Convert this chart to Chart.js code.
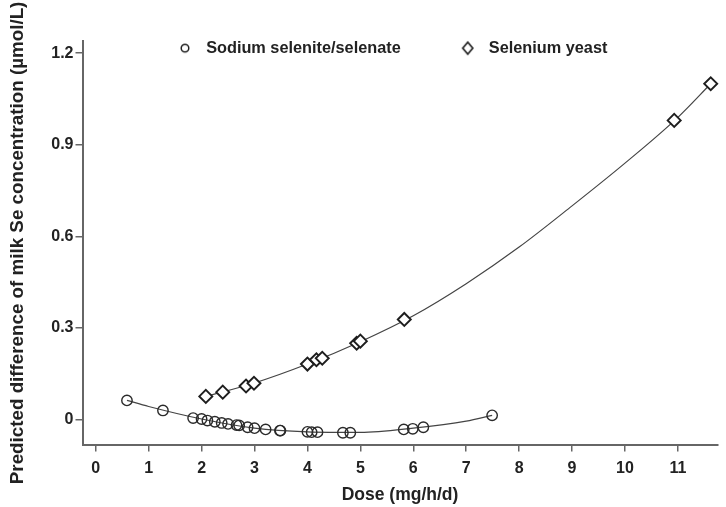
<!DOCTYPE html>
<html><head><meta charset="utf-8">
<script src="https://cdn.jsdelivr.net/npm/chart.js@4.4.0/dist/chart.umd.min.js"></script>
<style>html,body{margin:0;padding:0;background:#fff}#wrap{width:726px;height:507px}</style>
</head><body><div id="wrap"><canvas id="c" width="726" height="507"></canvas></div>
<script>
// ---- data ----
const seriesNames = ['Sodium selenite/selenate', 'Selenium yeast'];
const sodiumDose = [0.59, 1.27, 1.84, 2.00, 2.11, 2.25, 2.38, 2.50, 2.66, 2.71, 2.87, 3.00, 3.21, 3.48, 3.49, 4.00, 4.08, 4.19, 4.67, 4.81, 5.82, 5.99, 6.19, 7.49];
const sodiumDiff = [0.063, 0.030, 0.005, 0.002, -0.003, -0.007, -0.011, -0.014, -0.018, -0.019, -0.025, -0.028, -0.032, -0.036, -0.036, -0.040, -0.041, -0.041, -0.043, -0.043, -0.032, -0.030, -0.025, 0.014];
const yeastDose = [2.08, 2.40, 2.84, 2.99, 4.00, 4.17, 4.28, 4.93, 5.00, 5.83, 10.93, 11.62];
const yeastDiff = [0.076, 0.090, 0.110, 0.119, 0.182, 0.196, 0.201, 0.250, 0.257, 0.328, 0.980, 1.100];
// fitted curves
const sodiumFitDose = [0.59, 1, 2, 3, 4, 5, 6, 7, 7.49];
const sodiumFitDiff = [0.063, 0.043, 0.002, -0.028, -0.040, -0.042, -0.028, -0.005, 0.014];
const yeastFitDose = [2.08, 3, 4, 5, 6, 7, 8, 9, 10, 11, 11.62];
const yeastFitDiff = [0.076, 0.120, 0.182, 0.255, 0.340, 0.445, 0.565, 0.700, 0.840, 0.990, 1.100];
const xTickValues = [0, 1, 2, 3, 4, 5, 6, 7, 8, 9, 10, 11];
const yTickValues = [0, 0.3, 0.6, 0.9, 1.2];
const xTitle = 'Dose (mg/h/d)';
const yTitle = 'Predicted difference of milk Se concentration (\u00b5mol/L)';

const pts = (xs, ys) => xs.map((x, i) => ({x: x, y: ys[i]}));
const INK = '#222';
const AXIS = '#666';
const FAM = 'Liberation Sans, Arial, Helvetica, sans-serif';
const FONT = {family: FAM, size: 16, weight: 'bold'};

function makeIcon(kind) {
  const cv = document.createElement('canvas');
  cv.width = 80; cv.height = 16;
  const g = cv.getContext('2d');
  g.strokeStyle = INK; g.fillStyle = '#fff';
  const cx = 67, cy = 8;
  g.beginPath();
  if (kind === 'circle') {
    g.lineWidth = 1.5;
    g.arc(cx, cy, 3.8, 0, Math.PI * 2);
  } else {
    g.lineWidth = 1.7;
    g.moveTo(cx, cy - 6); g.lineTo(cx + 5, cy); g.lineTo(cx, cy + 6); g.lineTo(cx - 5, cy); g.closePath();
  }
  g.fill(); g.stroke();
  return cv;
}
const legendIcons = [makeIcon('circle'), makeIcon('diamond')];

const legendPos = {
  id: 'legendPos',
  afterLayout(chart) {
    const lg = chart.legend;
    if (!lg) return;
    const w = lg.width, h = lg.height;
    lg.left = 118; lg.right = 118 + w;
    lg.top = 40; lg.bottom = 40 + h;
  }
};

new Chart(document.getElementById('c'), {
  type: 'scatter',
  data: {
    datasets: [
      {label: seriesNames[0], data: pts(sodiumDose, sodiumDiff), pointStyle: 'circle', pointRadius: 5.2,
       pointBorderWidth: 1.4, borderColor: '#2a2a2a', backgroundColor: 'rgba(255,255,255,0)', order: 1, clip: false},
      {label: seriesNames[1], data: pts(yeastDose, yeastDiff), pointStyle: 'rectRot', pointRadius: 6.5,
       pointBorderWidth: 1.9, borderColor: '#1e1e1e', backgroundColor: '#fff', order: 1, clip: false},
      {label: 'fit1', data: pts(sodiumFitDose, sodiumFitDiff), showLine: true, pointRadius: 0,
       borderColor: '#444', borderWidth: 1.2, cubicInterpolationMode: 'monotone', order: 2, clip: false},
      {label: 'fit2', data: pts(yeastFitDose, yeastFitDiff), showLine: true, pointRadius: 0,
       borderColor: '#444', borderWidth: 1.2, cubicInterpolationMode: 'monotone', order: 2, clip: false}
    ]
  },
  options: {
    responsive: false, animation: false, devicePixelRatio: 1,
    layout: {padding: {top: 15, right: 0, left: 0, bottom: 0}},
    plugins: {
      tooltip: {enabled: false},
      legend: {
        position: 'top', align: 'start',
        labels: {
          usePointStyle: true, pointStyleWidth: 80, boxHeight: 8, padding: 0,
          font: {family: FAM, size: 16.3, weight: 'bold'}, color: INK,
          generateLabels(chart) {
            const items = Chart.defaults.plugins.legend.labels.generateLabels(chart);
            return items.filter(it => it.datasetIndex < 2).map(it => { it.pointStyle = legendIcons[it.datasetIndex]; return it; });
          }
        }
      }
    },
    scales: {
      x: {
        type: 'linear', min: -0.25, max: 11.75,
        afterBuildTicks(s) { s.ticks = xTickValues.map(v => ({value: v})); },
        afterFit(s) { s.height = 62.5; },
        ticks: {font: FONT, color: INK, padding: 7, maxRotation: 0, callback: v => String(v)},
        grid: {display: true, drawOnChartArea: false, drawTicks: true, tickLength: 7, color: AXIS, lineWidth: 1.5},
        border: {display: true, color: AXIS, width: 2},
        title: {display: true, text: xTitle, font: {family: FAM, size: 17.5, weight: 'bold'}, color: INK, padding: {top: 0, bottom: 1}}
      },
      y: {
        type: 'linear', min: -0.0815, max: 1.239,
        afterBuildTicks(s) { s.ticks = yTickValues.map(v => ({value: v})); },
        afterFit(s) { s.width = 82.5; },
        ticks: {font: FONT, color: INK, padding: 2, callback: v => (v === 0 ? '0' : v.toFixed(1))},
        grid: {display: true, drawOnChartArea: false, drawTicks: true, tickLength: 7, color: AXIS, lineWidth: 1.5},
        border: {display: true, color: AXIS, width: 2},
        title: {display: true, text: yTitle, font: {family: FAM, size: 18.8, weight: 'bold'}, color: INK, padding: {top: 7, bottom: 0}}
      }
    }
  },
  plugins: [legendPos]
});
</script>
</body></html>
